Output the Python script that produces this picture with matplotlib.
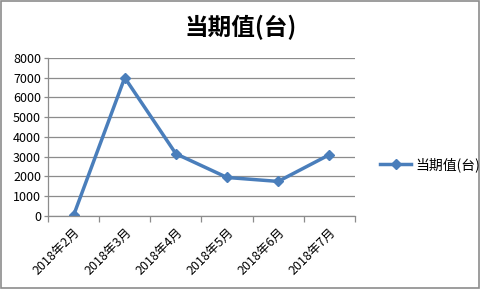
import matplotlib.pyplot as plt
from matplotlib.patches import Rectangle

plt.rcParams['font.family'] = ['Noto Sans CJK SC', 'DejaVu Sans']

# --- data ---
months = ['2018年2月', '2018年3月', '2018年4月', '2018年5月', '2018年6月', '2018年7月']
values = [30, 7000, 3150, 1950, 1750, 3100]
series_name = '当期值(台)'
y_ticks = [0, 1000, 2000, 3000, 4000, 5000, 6000, 7000, 8000]

line_color = '#4A7EBB'
grid_color = '#8C8C8C'

fig = plt.figure(figsize=(4.81, 2.89), dpi=100)
ax = fig.add_axes([0.0998, 0.2526, 0.638, 0.547])

x = list(range(len(months)))
line, = ax.plot(x, values, color=line_color, linewidth=2.5,
                marker='D', markersize=5.5, label=series_name)

ax.set_xlim(-0.5, len(months) - 0.5)
ax.set_ylim(0, 8000)
ax.set_yticks(y_ticks)
ax.set_yticklabels([str(v) for v in y_ticks], fontsize=9)
ax.yaxis.grid(True, color=grid_color, linewidth=0.9)
ax.set_axisbelow(True)

ax.set_xticks(x)
ax.set_xticklabels(months, rotation=45, ha='right', rotation_mode='anchor', fontsize=9)
ax.set_xticks([i - 0.5 for i in range(len(months) + 1)], minor=True)
ax.tick_params(axis='x', which='major', length=0, pad=7)
ax.tick_params(axis='x', which='minor', length=4, color=grid_color, width=0.9)
ax.tick_params(axis='y', length=3, color=grid_color, width=0.9, pad=2)

for side in ['top', 'right']:
    ax.spines[side].set_visible(False)
for side in ['left', 'bottom']:
    ax.spines[side].set_color(grid_color)
    ax.spines[side].set_linewidth(0.9)

fig.text(0.5, 0.905, series_name, ha='center', va='center',
         fontsize=17, fontweight='bold')

fig.legend(handles=[line], loc='center left', bbox_to_anchor=(0.765, 0.43),
           frameon=False, fontsize=10, handlelength=2.2, handletextpad=0.3)

fig.patches.append(Rectangle((0.002, 0.003), 0.994, 0.993, transform=fig.transFigure,
                             fill=False, edgecolor='#8C8C8C', linewidth=1.2))

fig.savefig('out.png', dpi=100)
